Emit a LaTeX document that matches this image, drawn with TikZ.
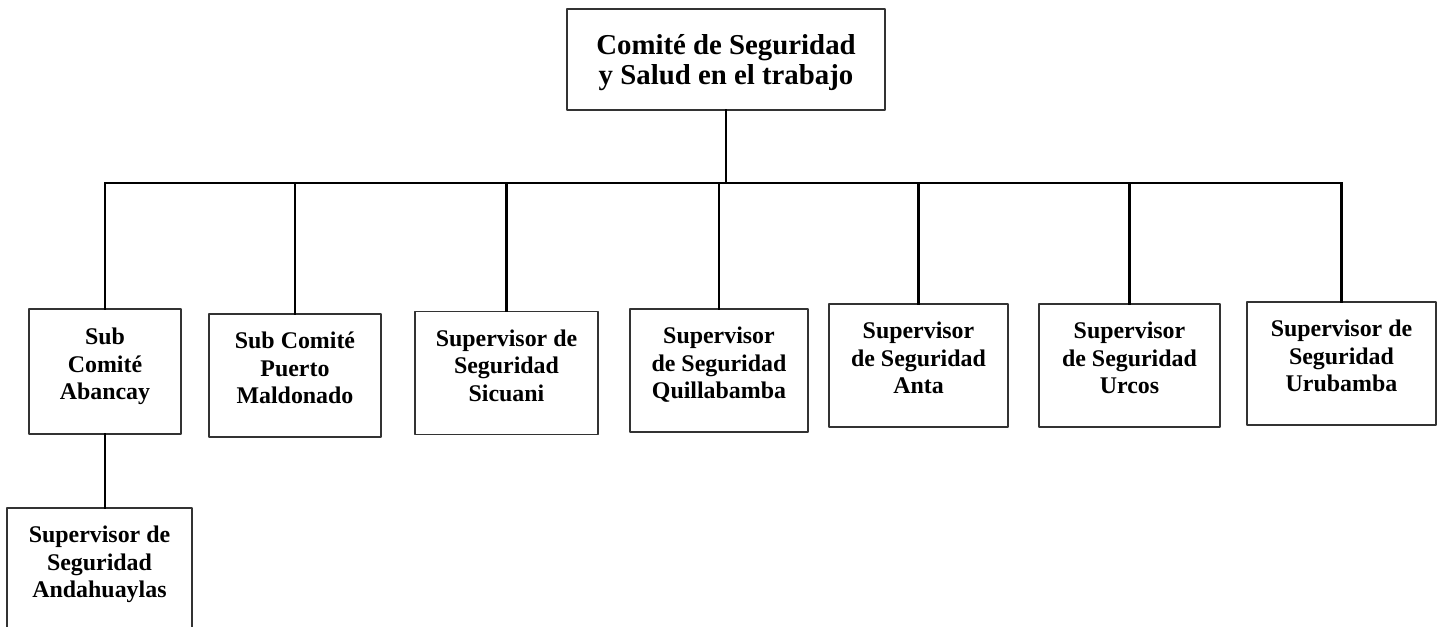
\documentclass[tikz,border=0pt]{standalone}
\usepackage{fontspec}
\setmainfont{Liberation Serif}
\usepackage{tikz}
\tikzset{
  unit/.style={draw=black!80, line width=0.6pt, align=center, inner sep=0pt,
    font=\bfseries\fontsize{13.6}{15.6}\selectfont, text depth=8.6pt,
    minimum height=2.46cm},
  head/.style={draw=black!80, line width=0.6pt, align=center, inner sep=0pt,
    font=\bfseries\fontsize{16.4}{17.3}\selectfont, text depth=0pt,
    minimum width=6.36cm, minimum height=2.02cm},
  link/.style={line width=1.2pt, black}
}

\begin{document}
\begin{tikzpicture}[line cap=rect,line join=round,x=1cm,y=1cm]
    \useasboundingbox (0,0) rectangle (28.8,-12.54);

    \node[head] (comite) at (14.52,-1.19) {Comité de Seguridad\\y Salud en el trabajo};
    \coordinate (bus) at (14.46,-3.66);

    \node[unit, minimum width=3.04cm, minimum height=2.5cm] (abancay) at (2.10,-7.43) {Sub\\Comité\\Abancay};
    \node[unit, minimum width=3.44cm] (puerto) at (5.90,-7.51) {Sub Comité\\Puerto\\Maldonado};
    \node[unit, minimum width=3.66cm] (sicuani) at (10.13,-7.46) {Supervisor de\\Seguridad\\Sicuani};
    \node[unit, minimum width=3.56cm] (quilla) at (14.38,-7.41) {Supervisor\\de Seguridad\\Quillabamba};
    \node[unit, minimum width=3.58cm] (anta) at (18.37,-7.31) {Supervisor\\de Seguridad\\Anta};
    \node[unit, minimum width=3.62cm] (urcos) at (22.59,-7.31) {Supervisor\\de Seguridad\\Urcos};
    \node[unit, minimum width=3.78cm] (urubamba) at (26.83,-7.27) {Supervisor de\\Seguridad\\Urubamba};
    \node[unit, minimum width=3.70cm] (andahua) at (1.99,-11.39) {Supervisor de\\Seguridad\\Andahuaylas};

    \draw[link] (comite.south) -- (comite.south |- bus);
    \draw[link] (abancay.north |- bus) -- (urubamba.north |- bus);
    \foreach \n in {abancay,puerto,sicuani,quilla,anta,urcos,urubamba}
        \draw[link] (\n.north |- bus) -- (\n.north);
    \draw[link] (abancay.south) -- (abancay.south |- andahua.north);

\end{tikzpicture}
\end{document}
